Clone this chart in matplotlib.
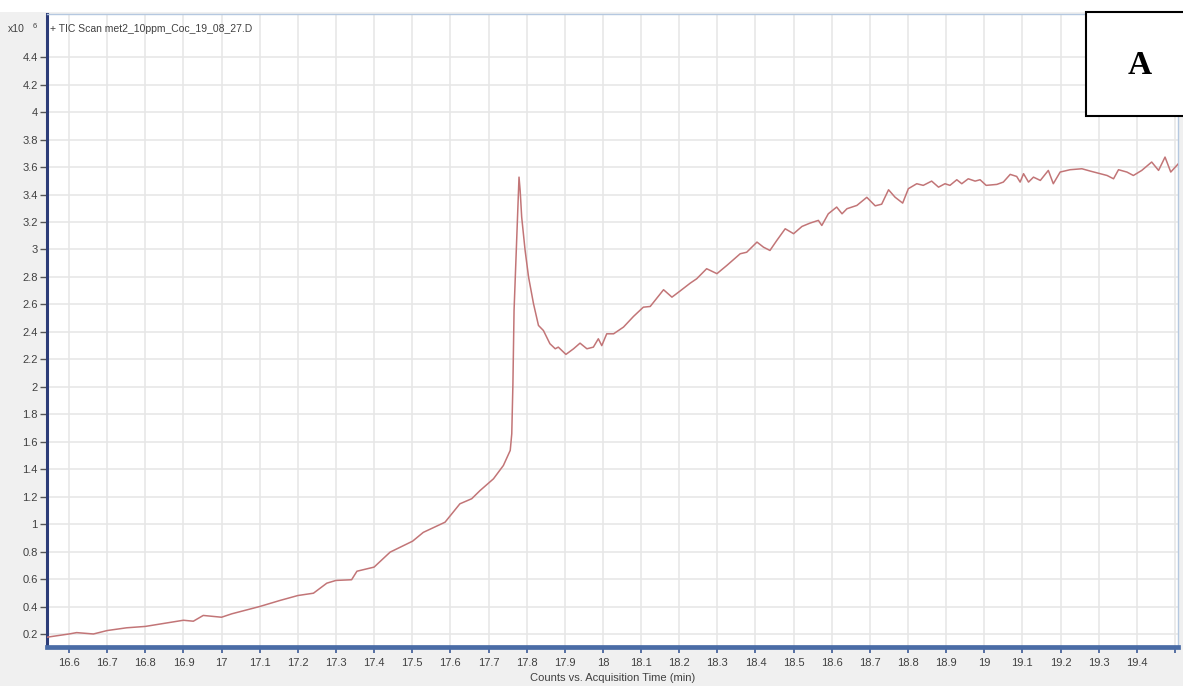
import matplotlib
matplotlib.use("Agg")
import matplotlib.pyplot as plt
from matplotlib.patches import Rectangle
import numpy as np

# ---- data ----
time_min = [16.541, 16.600, 16.620, 16.664, 16.700, 16.751, 16.800, 16.856, 16.900, 16.926,
            16.952, 17.000, 17.027, 17.100, 17.153, 17.200, 17.241, 17.276, 17.300, 17.341,
            17.355, 17.400, 17.442, 17.501, 17.529, 17.586, 17.625, 17.656, 17.678, 17.713,
            17.739, 17.757, 17.761, 17.764, 17.767, 17.774, 17.780, 17.783, 17.787, 17.796,
            17.805, 17.818, 17.831, 17.844, 17.861, 17.875, 17.883, 17.903, 17.923, 17.940,
            17.958, 17.975, 17.988, 17.997, 18.010, 18.028, 18.054, 18.080, 18.106, 18.124,
            18.159, 18.181, 18.202, 18.229, 18.246, 18.272, 18.299, 18.325, 18.360, 18.377,
            18.404, 18.421, 18.438, 18.456, 18.478, 18.500, 18.522, 18.543, 18.565, 18.574,
            18.591, 18.613, 18.627, 18.640, 18.666, 18.692, 18.714, 18.731, 18.749, 18.766,
            18.786, 18.801, 18.823, 18.840, 18.862, 18.880, 18.897, 18.910, 18.928, 18.941,
            18.958, 18.976, 18.989, 19.005, 19.033, 19.050, 19.068, 19.085, 19.094, 19.103,
            19.116, 19.129, 19.147, 19.168, 19.181, 19.199, 19.225, 19.256, 19.278, 19.304,
            19.322, 19.339, 19.352, 19.374, 19.391, 19.413, 19.439, 19.457, 19.474, 19.489,
            19.509]
counts_e6 = [0.176, 0.200, 0.210, 0.200, 0.225, 0.245, 0.255, 0.280, 0.300, 0.293,
             0.335, 0.322, 0.347, 0.400, 0.444, 0.480, 0.497, 0.570, 0.590, 0.595,
             0.657, 0.687, 0.796, 0.876, 0.940, 1.014, 1.148, 1.185, 1.245, 1.330,
             1.427, 1.537, 1.658, 2.020, 2.556, 3.090, 3.527, 3.430, 3.236, 2.993,
             2.800, 2.605, 2.447, 2.410, 2.314, 2.277, 2.289, 2.236, 2.277, 2.318,
             2.277, 2.289, 2.350, 2.300, 2.386, 2.386, 2.435, 2.512, 2.580, 2.585,
             2.707, 2.653, 2.697, 2.755, 2.787, 2.860, 2.824, 2.884, 2.969, 2.980,
             3.054, 3.017, 2.993, 3.066, 3.151, 3.115, 3.168, 3.192, 3.212, 3.175,
             3.260, 3.309, 3.260, 3.297, 3.321, 3.380, 3.318, 3.330, 3.435, 3.381,
             3.338, 3.443, 3.479, 3.467, 3.498, 3.454, 3.479, 3.467, 3.508, 3.479,
             3.515, 3.498, 3.508, 3.467, 3.474, 3.491, 3.547, 3.532, 3.491, 3.552,
             3.491, 3.527, 3.503, 3.576, 3.479, 3.564, 3.581, 3.588, 3.571, 3.552,
             3.539, 3.515, 3.581, 3.564, 3.539, 3.576, 3.637, 3.576, 3.673, 3.564,
             3.625]
x_ticks = [16.6, 16.7, 16.8, 16.9, 17.0, 17.1, 17.2, 17.3, 17.4, 17.5, 17.6, 17.7, 17.8,
           17.9, 18.0, 18.1, 18.2, 18.3, 18.4, 18.5, 18.6, 18.7, 18.8, 18.9, 19.0, 19.1,
           19.2, 19.3, 19.4, 19.5]
x_tick_labels = ["16.6", "16.7", "16.8", "16.9", "17", "17.1", "17.2", "17.3", "17.4",
                 "17.5", "17.6", "17.7", "17.8", "17.9", "18", "18.1", "18.2", "18.3",
                 "18.4", "18.5", "18.6", "18.7", "18.8", "18.9", "19", "19.1", "19.2",
                 "19.3", "19.4", ""]
y_ticks = [0.2, 0.4, 0.6, 0.8, 1.0, 1.2, 1.4, 1.6, 1.8, 2.0, 2.2, 2.4, 2.6, 2.8, 3.0,
           3.2, 3.4, 3.6, 3.8, 4.0, 4.2, 4.4]
y_tick_labels = ["0.2", "0.4", "0.6", "0.8", "1", "1.2", "1.4", "1.6", "1.8", "2", "2.2",
                 "2.4", "2.6", "2.8", "3", "3.2", "3.4", "3.6", "3.8", "4", "4.2", "4.4"]
title_text = "+ TIC Scan met2_10ppm_Coc_19_08_27.D"
x_label = "Counts vs. Acquisition Time (min)"
panel_label = "A"

plt.rcParams['font.family'] = ['Liberation Sans Narrow', 'Liberation Sans', 'DejaVu Sans']

W, H = 1183, 686
fig = plt.figure(figsize=(W / 100, H / 100), dpi=100, facecolor='#f0f0f0')
# white strip at top of figure
fig.patches.append(Rectangle((0, 1 - 12 / H), 1, 12 / H, transform=fig.transFigure,
                             facecolor='white', edgecolor='none', zorder=0))

left, right, bottom, top = 46.7 / W, 1178 / W, 1 - 647.3 / H, 1 - 14 / H
ax = fig.add_axes([left, bottom, right - left, top - bottom])
ax.set_facecolor('white')

ax.plot(time_min, counts_e6, color='#c27577', lw=1.1, zorder=3)

ax.set_xlim(16.5415, 19.508)
ax.set_ylim(0.103, 4.715)

ax.set_xticks(x_ticks)
ax.set_xticklabels(x_tick_labels)
ax.set_yticks(y_ticks)
ax.set_yticklabels(y_tick_labels)

ax.grid(True, color='#e6e6e6', lw=1.1, zorder=0)
ax.set_axisbelow(True)

ax.tick_params(axis='x', direction='out', length=4, width=1.2, color='#3d5a96',
               labelsize=8, labelcolor='#404040', pad=4)
ax.tick_params(axis='y', direction='out', length=5, width=1.0, color='#555555',
               labelsize=8, labelcolor='#404040', pad=1.5)

for s in ['top', 'right']:
    ax.spines[s].set_color('#b5c8e0')
    ax.spines[s].set_linewidth(1.0)
ax.spines['left'].set_color('#2c3c78')
ax.spines['left'].set_linewidth(2.2)
ax.spines['bottom'].set_color('#4a6ca6')
ax.spines['bottom'].set_linewidth(3.4)

# title text inside plot and multiplier
ax.text(0.003, 0.977, title_text, transform=ax.transAxes, fontsize=7.5,
        color='#404040', ha='left', va='center')
fig.text(8 / W, 1 - 29 / H, "x10", fontsize=7.5, color='#404040', ha='left', va='center')
fig.text(33 / W, 1 - 26 / H, "6", fontsize=5.5, color='#404040', ha='left', va='center')

ax.set_xlabel(x_label, fontsize=8, color='#404040', labelpad=3)

# panel label box
fig.patches.append(Rectangle((1085.7 / W, 1 - 116 / H), (1190 - 1085.7) / W, (116 - 11.7) / H,
                             transform=fig.transFigure, facecolor='white',
                             edgecolor='black', lw=1.5, zorder=10))
fig.text(1140 / W, 1 - 66 / H, panel_label, fontsize=24, fontweight='bold',
         family=['Liberation Serif', 'DejaVu Serif'], ha='center', va='center', zorder=11)

fig.savefig("out.png", dpi=100, facecolor=fig.get_facecolor())
